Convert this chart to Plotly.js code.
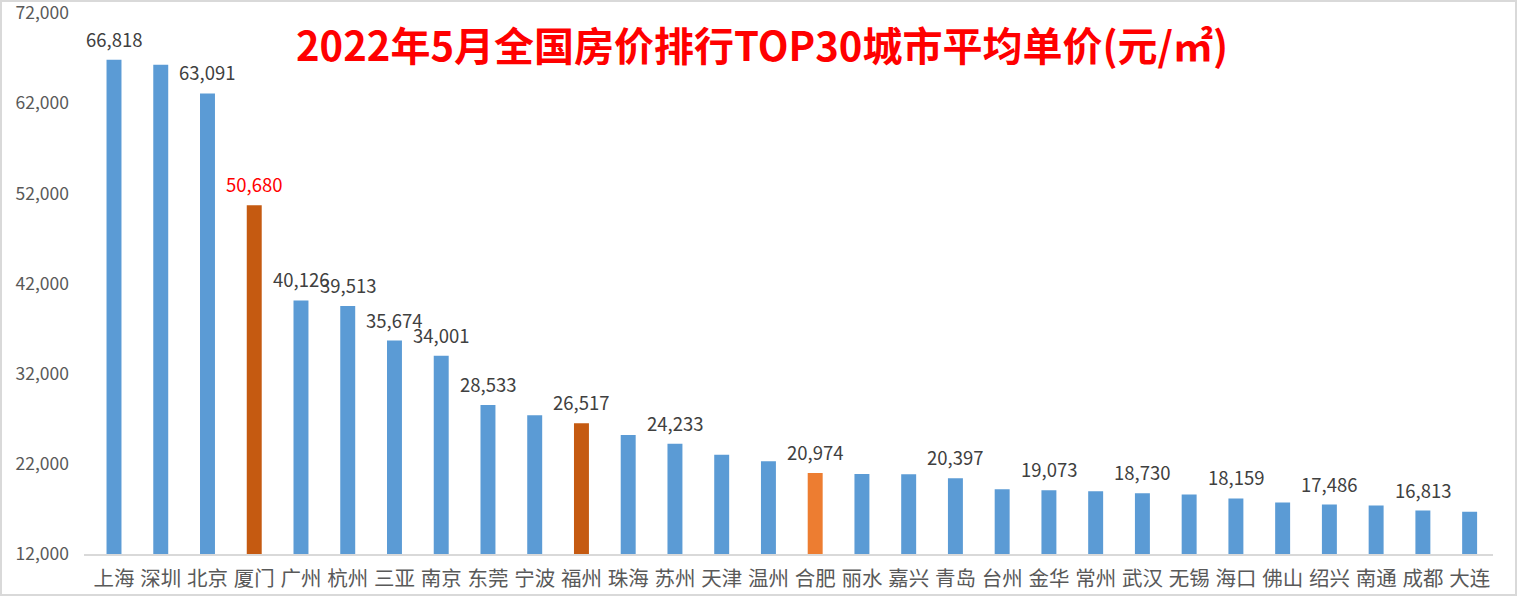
<!DOCTYPE html>
<html>
<head>
<meta charset="utf-8">
<script src="https://cdn.plot.ly/plotly-3.0.1.min.js"></script>
<style>
  html, body { margin: 0; padding: 0; background: #fff; }
  #wrap { position: relative; width: 1517px; height: 596px; }
  #chart { width: 1517px; height: 596px; }
  #frame { position: absolute; left: 0; top: 0; width: 1517px; height: 596px; box-sizing: border-box; border: 2px solid #D9D9D9; pointer-events: none; }
</style>
</head>
<body>
<div id="wrap"><div id="chart"></div><div id="frame"></div></div>
<script>
const cities = ["上海","深圳","北京","厦门","广州","杭州","三亚","南京","东莞","宁波","福州","珠海","苏州","天津","温州","合肥","丽水","嘉兴","青岛","台州","金华","常州","武汉","无锡","海口","佛山","绍兴","南通","成都","大连"];
const prices = [66818, 66270, 63091, 50680, 40126, 39513, 35674, 34001, 28533, 27400, 26517, 25200, 24233, 23000, 22300, 20974, 20870, 20860, 20397, 19195, 19073, 18960, 18730, 18613, 18159, 17710, 17486, 17370, 16813, 16700];
const showLabel = [1,0,1,1,1,1,1,1,1,0,1,0,1,0,0,1,0,0,1,0,1,0,1,0,1,0,1,0,1,0];
const barColors = cities.map(c => c === "厦门" || c === "福州" ? "#C55A11" : (c === "合肥" ? "#ED7D31" : "#5B9BD5"));
const labelColors = cities.map(c => c === "厦门" ? "#FF0000" : "#404040");
const yTicks = [12000, 22000, 32000, 42000, 52000, 62000, 72000];
const titleText = "2022年5月全国房价排行TOP30城市平均单价(元/㎡)";

const font = '"Noto Sans CJK SC", "Noto Sans", sans-serif';

const annotations = [];
cities.forEach((c, i) => {
  if (showLabel[i]) {
    annotations.push({
      x: c, y: prices[i], xref: 'x', yref: 'y',
      text: prices[i].toLocaleString('en-US'),
      showarrow: false, yanchor: 'middle', yshift: 21,
      font: { family: font, size: 18.5, color: labelColors[i] }
    });
  }
});
annotations.push({
  xref: 'paper', yref: 'paper', x: 0.481, y: 1, yanchor: 'middle', yshift: -31,
  text: '<b>' + titleText + '</b>', showarrow: false,
  font: { family: font, size: 40, color: '#FF0000' }
});

const trace = {
  type: 'bar', x: cities, y: prices,
  marker: { color: barColors },
  hoverinfo: 'x+y', cliponaxis: false
};

const layout = {
  width: 1517, height: 596,
  margin: { l: 84, r: 24, t: 13, b: 42 },
  paper_bgcolor: '#fff', plot_bgcolor: '#fff',
  bargap: 0.68,
  showlegend: false,
  xaxis: {
    type: 'category', showgrid: false, zeroline: false, automargin: false,
    showline: true, linecolor: '#D9D9D9', linewidth: 2,
    ticks: '', ticklabelstandoff: 5,
    tickfont: { family: font, size: 20.5, color: '#595959' }
  },
  yaxis: {
    range: [12000, 72010], tickvals: yTicks, tickformat: ',', automargin: false,
    ticklabeloverflow: 'allow',
    showgrid: false, zeroline: false, showline: false, ticks: '',
    ticklabelstandoff: 14,
    tickfont: { family: font, size: 17.5, color: '#595959' }
  },
  annotations: annotations
};

Plotly.newPlot('chart', [trace], layout, { displayModeBar: false, staticPlot: true });
</script>
</body>
</html>
